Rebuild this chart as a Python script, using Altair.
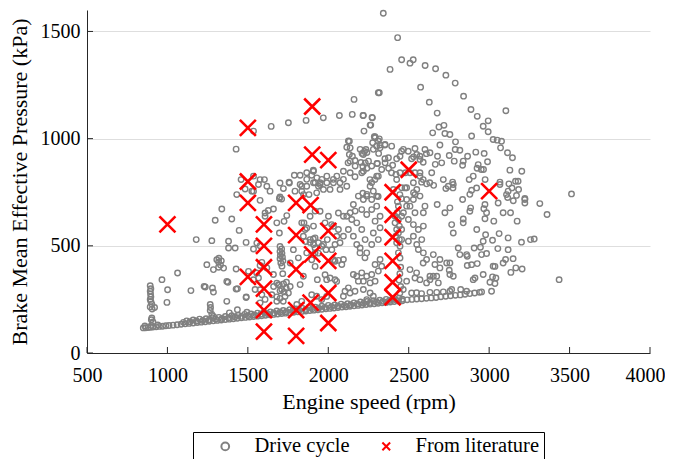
import altair as alt
import pandas as pd

# ---------------- data ----------------
lit_rpm = [1000, 1500, 1500, 1500, 1500, 1600, 1600, 1600, 1600, 1600, 1600,
           1800, 1890, 1800, 1800, 1800, 1800, 1900, 1900, 2000, 1900, 1890,
           2000, 2000, 2000, 2000, 2400, 2400, 2400, 2400, 2400, 2400, 2500, 3000]
lit_bmep = [600, 1050, 800, 700, 355, 600, 500, 400, 300, 200, 100,
            700, 690, 550, 390, 200, 80, 1150, 925, 900, 460, 235,
            570, 430, 280, 140, 750, 645, 540, 430, 330, 260, 855, 755]

dc_band = [(850,117),(865,118),(880,119),(895,120),(910,121),(930,122),(950,124),(970,125),(990,127),
           (1010,128),(1035,130),(1060,132),(1085,134),(1110,136),(1135,138),(1160,140),(1185,142),
           (1210,144),(1235,146),(1260,148),(1285,150),(1310,152),(1335,154),(1360,156),(1385,158),
           (1410,160),(1435,162),(1460,164),(1485,166),(1510,168),(1535,170),(1560,172),(1585,174),
           (1610,176),(1635,178),(1660,180),(1685,182),(1710,184),(1735,186),(1760,188),(1785,190),
           (1810,192),(1835,194),(1860,196),(1885,198),(1910,200),(1935,202),(1960,204),(1985,206),
           (2010,208),(2035,210),(2060,212),(2085,214),(2110,216),(2135,218),(2160,220),(2185,222),
           (2210,224),(2235,226),(2260,228),(2285,230),(2310,232),(2335,234),(2360,236),(2385,238),
           (2410,240),(2435,242),(2460,244),(2490,248),(2520,250),(2550,252),(2580,253),(2610,255),
           (2640,257),(2670,259),(2700,262),(2730,265),(2760,267),(2790,269),(2820,271),(2850,274),
           (2880,277),(2910,280),(2940,283)]
dc_band_mid = [(860,126),(900,128),(940,131),(1100,143),(1140,146),(1180,149),(1220,152),(1260,155),
               (1300,158),(1340,161),(1380,165),(1420,168),(1460,171),(1500,174),(1540,177),(1580,181),
               (1620,184),(1660,187),(1700,190),(1740,193),(1780,197),(1820,200),(1860,203),(1900,206),
               (1940,209),(1980,213),(2020,216),(2060,219),(2100,222),(2140,225),(2180,229),(2220,232),
               (2260,235),(2300,238),(2340,241),(2380,245),(2420,248),(2460,251)]
dc_band_top = [(1120,150),(1160,154),(1200,158),(1240,160),(1280,164),(1320,166),(1360,170),(1400,174),
               (1440,176),(1480,180),(1520,182),(1560,186),(1600,190),(1640,192),(1680,196),(1720,198),
               (1760,202),(1800,206),(1840,208),(1880,212),(1920,214),(1960,218),(2000,222),(2040,224),
               (2080,228),(2120,230),(2160,234),(2200,238),(2240,240),(2280,244),(2320,246),(2360,250),
               (2400,252),(2440,256),(2518,280),(2549,281),(2580,277),(2632,283),(2674,283),(2715,285),
               (2756,288),(2953,285),(3015,288)]
dc_low_left = [(893,314),(897,300),(893,288),(895,275),(897,262),(893,250),(897,240),(903,228),(893,215),
               (905,205),(920,212),(903,163),(900,155),(910,145),(966,342),(1063,373),(1001,295),
               (997,236),(1146,291),(1228,311),(1280,303),(1235,308),(1286,284),(1266,226),(1268,212),
               (1266,198),(1286,171),(1276,180),(1245,412),(1286,389),(1307,435),(1318,425),(1330,410),
               (1349,396),(1318,400),(1320,442),(1335,430),(1297,619),(1338,672),(1400,625),(1179,529),
               (1276,524),(1380,521),(1380,490),(1421,490),(1427,392),(1369,334),(1427,298),(1376,330),
               (1369,241),(1385,187),(1435,300),(1435,202),(1489,259),(1494,190),(1490,262),(1431,739),
               (1446,572),(1489,516)]
dc_mid_left = [(1535,485),(1556,513),(1576,500),(1587,423),(1576,408),(1618,397),(1555,373),(1535,342),
               (1576,295),(1587,272),(1607,250),(1566,350),(1545,296),(1576,234),(1504,381),(1607,653),
               (1627,665),(1659,672),(1607,638),(1576,712),(1535,755),(1483,765),(1576,809),(1638,755),
               (1700,728),(1710,718),(1680,607),(1696,560),(1725,614),(1742,641),(1700,497),(1700,474),
               (1702,455),(1700,440),(1710,485),(1712,465),(1715,448),(1718,430),(1705,420),(1712,405),
               (1680,326),(1696,318),(1722,322),(1738,303),(1700,290),(1725,285),(1752,280),(1763,310),
               (1649,272),(1680,262),(1700,255),(1690,319),(1711,296),(1731,264),(1660,310),(1740,330),
               (1825,319),(1845,358),(1717,370),(1680,241),(1720,241),(1804,226),(1835,241),(1897,272),
               (1928,265),(1959,249),(1990,264),(1659,366),(1825,786),(1866,778),(1835,755),(1928,747),
               (1949,786),(1758,793),(1618,778),(1700,793),(1458,809),(1535,825),(1566,786),(1603,809),
               (1525,755),(1721,767),(1756,797),(1789,829),(1825,829),(1835,778),(1793,755),(1696,721),
               (1866,841),(1897,829),(1907,853),(1880,739),(1849,607),(1866,583),(1845,545),(1887,516),
               (1860,520),(1907,532),(1918,490),(1938,466),(1960,498),(1986,482),(1994,529),(2032,435),
               (2042,428),(2063,432),(2011,350),(2042,342),(2052,334),(1990,342),(1932,342),(1949,661),
               (1980,607),(2001,638),(2063,653),(2021,599),(1897,435),(1918,404),(1980,365),(1783,482),
               (1763,420),(1814,444)]
dc_upper = [(2160,1183),(2311,1214),(1969,1097),(2069,1108),(2149,1113),(2218,1108),(2274,1097),(1862,1085),
            (1752,1074),(1645,1057),(1535,1035),(1427,951),(2264,1063),(2222,1035),(2290,1009),(2131,988),
            (2115,960),(2301,965),(2210,931),(2225,940),(2240,935),(2131,926),(2203,889),(2215,870),
            (2303,884),(2123,887),(2166,898),(2218,848),(2166,822),(2259,809),(2301,825),(2342,1585),
            (2431,1471),(2456,1368),(2508,1352),(2528,1368),(2384,1323),(2317,1214),(2602,1341),(2667,1326),
            (2731,1296),(2789,1259),(2574,1240),(2841,1198),(2628,1170),(2677,1119),(2887,1136),(2926,1104),
            (3104,1130),(2994,1083),(2963,1058),(2994,1032),(2688,1054),(2719,1062),(2649,1027),(2725,1024),
            (2756,1019),(2891,1012),(2694,970),(2791,985),(3025,996),(3050,993),(3077,988),(3071,957),
            (3114,934),(3145,911),(2216,1108),(2272,1099),(2260,1063),(2286,1009),(2317,999),(2276,981),
            (2321,970),(2352,970),(2394,965),(2234,949),(2313,931),(2456,941),(2497,941),(2539,954),
            (2601,949),(2632,934),(2818,946),(2789,949),(2917,937),(2969,931),(2866,918),(2990,892),
            (3129,853),(3203,848),(3180,801),(3183,763),(3067,797),(3123,789),(3142,770),(3512,742),
            (3222,721),(3108,739),(3115,725)]
dc_center = [(2679,918),(2752,921),(2783,895),(2839,895),(2835,876),(2705,887),(2665,880),(2305,884),
             (2352,906),(2425,906),(2400,876),(2518,906),(2570,918),(2590,890),(2610,930),(2932,879),
             (2951,856),(2925,862),(2965,856),(2876,809),(2901,825),(2975,809),(2922,770),(2891,759),
             (2880,740),(2773,797),(2715,809),(2731,767),(2775,770),(2611,789),(2580,797),(2643,841),
             (2655,782),(2539,739),(2530,748),(2477,770),(2405,763),(2445,739),(2290,809),(2270,795),
             (2240,740),(2215,745),(2310,730),(2539,841),(2508,841),(2480,841),(2570,841),(2421,833),
             (2393,841),(2375,862),(2240,862),(2125,989),(2136,957),(2198,950),(2218,926),(2280,950),
             (2291,1004),(2311,989),(2322,957),(2353,973),(2467,950),(2550,926),(2570,903),(2530,915),
             (2446,918),(2374,911),(2353,887),(2332,856),(2311,825),(2270,872),(2250,895),(2230,887),
             (2208,841),(2167,872),(2136,895),(2150,918),(2136,841),(2094,848),(2053,825),(2073,794),
             (2032,794),(1991,794),(1949,794),(1918,794),(1970,763),(2011,763),(2073,763),(2115,778),
             (2094,810),(1908,848),(1991,825),(2570,825),(2529,794),(2487,771),(2456,771),(2425,809),
             (2446,841),(2550,763),(2570,732),(2529,716),(2487,685),(2467,654),(2498,623),(2529,599),
             (2560,576),(2529,545),(2498,521),(2550,506),(2581,529),(2591,592),(2591,654),(2601,685)]
dc_dense = [(2260,778),(2280,755),(2301,732),(2270,716),(2239,732),(2218,716),(2187,732),(2156,693),
            (2167,662),(2208,669),(2239,646),(2270,669),(2301,685),(2322,638),(2291,615),(2322,584),
            (2280,560),(2311,529),(2270,506),(2229,529),(2208,576),(2177,607),(2146,623),(2115,638),
            (2125,576),(2094,545),(2073,514),(2042,506),(2156,545),(2198,490),(2239,467),(2436,685),
            (2429,654),(2436,623),(2442,592),(2436,560),(2442,529),(2446,498),(2436,467),(2446,443),
            (2415,638),(2415,607),(2425,576),(2420,545),(2425,514),(2456,638),(2456,576),(2456,529),
            (2450,400),(2445,370),(2440,340),(2450,310),(2445,280),(2455,720),(2430,705),(2508,685),
            (2487,716),(2539,654),(2560,483),(2591,467),(1846,739),(1866,810),(1929,817),(1960,810),
            (2032,810),(1939,778),(1908,794),(1835,607),(1856,576),(1887,638),(1918,662),(1908,592),
            (1887,529),(1918,537),(1908,506),(1939,514),(1970,506),(2022,482),(1866,467),(1918,467),
            (2094,638),(2136,654),(2032,591),(2063,576),(2053,545),(2177,506)]
dc_lower_right = [(2094,436),(2084,413),(2156,366),(2177,358),(2208,374),(2187,335),(2218,335),(2239,358),
                  (2270,366),(2260,327),(2291,335),(2125,304),(2104,288),(2135,280),(2094,265),(2166,288),
                  (2218,296),(2260,280),(2280,265),(2239,249),(2197,467),(2228,444),(2291,413),(2322,436),
                  (2332,405),(2311,382),(2508,389),(2549,374),(2539,350),(2570,342),(2611,327),(2487,335),
                  (2466,296),(2963,366),(2901,342),(3025,405),(2891,412),(2860,459),(2953,459),(2653,459),
                  (2611,436),(2663,413),(2694,436),(2736,420),(2756,366),(2777,358),(2674,358),(2632,358)]
dc_right = [(3315,697),(3360,646),(3222,716),(3222,700),(3170,735),(3118,755),(3150,710),(3056,700),
            (3087,654),(3133,654),(3174,615),(3029,615),(2974,626),(2984,654),(2967,673),(2974,693),
            (2885,677),(2880,661),(2835,716),(2923,576),(2978,552),(3062,557),(3118,537),(3201,517),
            (3257,529),(3280,532),(2963,521),(3021,526),(3054,487),(3118,482),(2907,490),(2946,493),
            (2984,464),(2926,417),(2864,451),(2864,408),(3102,436),(3149,440),(3087,420),(3166,397),
            (3205,392),(3135,376),(3036,404),(2912,350),(3021,355),(3042,350),(3036,324),(3005,330),
            (3435,342),(2767,296),(2823,296),(2860,288),(2818,459),(2808,490),(2694,397),(2752,386),
            (2653,358),(2684,327),(2632,342),(2590,420),(2756,420),(2839,607),(2839,625),(2767,599),
            (2777,560),(2756,677),(2725,654),(2677,693),(2746,778),(2777,786),(3067,786),(3164,801),
            (2631,794),(2590,809)]

x_ticks = [500, 1000, 1500, 2000, 2500, 3000, 3500, 4000]
y_ticks = [0, 500, 1000, 1500]
series_names = ["Drive cycle", "From literature"]

# ---------------- chart ----------------
FONT = "Times New Roman"
GRAY = "#808080"
RED = "#ff0000"
AXIS_COLOR = "#262626"
X_PATH = "M-1,-1L1,1M-1,1L1,-1"

dc_all = (dc_band + dc_band_mid + dc_band_top + dc_low_left + dc_mid_left + dc_upper
          + dc_center + dc_dense + dc_lower_right + dc_right)
dc_df = pd.DataFrame(dc_all, columns=["rpm", "bmep"])
dc_df["series"] = series_names[0]
lit_df = pd.DataFrame({"rpm": lit_rpm, "bmep": lit_bmep})
lit_df["series"] = series_names[1]

xs = alt.Scale(domain=[500, 4000], nice=False, zero=False)
ys = alt.Scale(domain=[0, 1600], nice=False)

x_axis = alt.Axis(values=x_ticks, format="d", grid=False, ticks=False,
                  labelFlush=True, labelFlushOffset=15, labelFont=FONT,
                  titleFont=FONT, title="Engine speed (rpm)")
y_axis = alt.Axis(values=y_ticks, format="d", grid=True, ticks=False,
                  labelFlush=False, labelFont=FONT, titleFont=FONT,
                  title="Brake Mean Effective Pressure (kPa)")

legend = alt.Legend(title=None, orient="none", legendX=106, legendY=422,
                    direction="horizontal", labelFont=FONT)

color = alt.Color("series:N", scale=alt.Scale(domain=series_names, range=[GRAY, RED]),
                  legend=legend)
shape = alt.Shape("series:N", scale=alt.Scale(domain=series_names, range=["circle", X_PATH]),
                  legend=legend)

dc_layer = alt.Chart(dc_df).mark_point(filled=False, size=30, strokeWidth=1.4,
                                       opacity=1).encode(
    x=alt.X("rpm:Q", scale=xs, axis=x_axis),
    y=alt.Y("bmep:Q", scale=ys, axis=y_axis),
    color=color, shape=shape)

lit_layer = alt.Chart(lit_df).mark_point(filled=False, size=256, strokeWidth=2.6,
                                         opacity=1).encode(
    x=alt.X("rpm:Q", scale=xs, axis=x_axis),
    y=alt.Y("bmep:Q", scale=ys, axis=y_axis),
    color=color, shape=shape)

xt_df = pd.DataFrame({"v": x_ticks})
yt_df = pd.DataFrame({"v": y_ticks})
xtick_layer = alt.Chart(xt_df).mark_rule(color=AXIS_COLOR, strokeWidth=1).encode(
    x=alt.X("v:Q", scale=xs, axis=x_axis), y=alt.value(343), y2=alt.value(337))
ytick_layer = alt.Chart(yt_df).mark_rule(color=AXIS_COLOR, strokeWidth=1).encode(
    y=alt.Y("v:Q", scale=ys, axis=y_axis), x=alt.value(0), x2=alt.value(6))

chart = (alt.layer(dc_layer, lit_layer, xtick_layer, ytick_layer).properties(
    width=563, height=343,
    autosize=alt.AutoSizeParams(type="none"),
    padding={"left": 79, "top": 2, "right": 15, "bottom": 106},
    background="white",
).configure(font=FONT)
 .configure_view(stroke=None)
 .configure_axisX(labelFont=FONT, labelFontSize=20, labelColor="black",
                  labelPadding=12, titleFont=FONT, titleFontSize=22,
                  titleFontWeight="normal", titleColor="black", titlePadding=6,
                  domainColor=AXIS_COLOR)
 .configure_axisY(labelFont=FONT, labelFontSize=20, labelColor="black",
                  labelPadding=7, titleFont=FONT, titleFontSize=22,
                  titleFontWeight="normal", titleColor="black", titlePadding=9,
                  domainColor=AXIS_COLOR, gridColor="#dedede")
 .configure_legend(labelFont=FONT, labelFontSize=20.5, labelColor="black",
                   strokeColor="black", fillColor="white", padding=4, symbolOffset=18,
                   labelOffset=19, columnPadding=8, symbolSize=60, symbolStrokeWidth=2))

chart.save("out.html", embed_options={"renderer": "svg", "actions": False})
